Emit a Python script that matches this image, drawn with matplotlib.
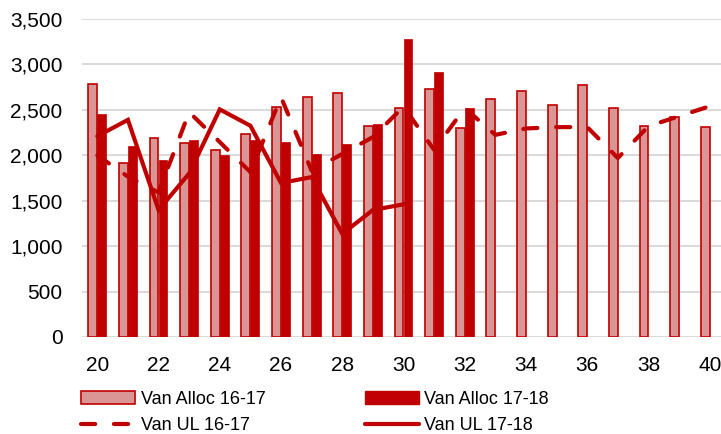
import numpy as np
import matplotlib.pyplot as plt
from matplotlib.patches import Patch
from matplotlib.lines import Line2D

plt.rcParams['font.family'] = ['Liberation Sans', 'DejaVu Sans']

# Week numbers and values
weeks = list(range(20, 41))
weeks_1718 = list(range(20, 33))
weeks_ul_1718 = list(range(20, 31))

alloc_1617 = [2780, 1920, 2190, 2140, 2055, 2230, 2535, 2645, 2690, 2320, 2515,
              2735, 2300, 2625, 2710, 2555, 2775, 2515, 2320, 2420, 2315]
alloc_1718 = [2455, 2105, 1950, 2165, 2000, 2165, 2150, 2015, 2125, 2345, 3285,
              2915, 2515]
ul_1617 = [2000, 1765, 1590, 2475, 2145, 1815, 2640, 1830, 2015, 2200, 2535,
           2060, 2520, 2225, 2295, 2310, 2310, 1970, 2320, 2430, 2540]
ul_1718 = [2210, 2390, 1398, 1800, 2505, 2325, 1695, 1760, 1135, 1398, 1460]

dark = '#C00000'
light = '#DA9694'

fig = plt.figure(figsize=(7.21, 4.34), dpi=100)
ax = fig.add_axes([82 / 721, 1 - 337 / 434, (725 - 82) / 721, (337 - 19) / 434])

off = 0.147
bw = 0.29
ax.bar(np.array(weeks) - off, alloc_1617, width=bw, color=light,
       edgecolor=dark, linewidth=1.2, zorder=2)
ax.bar(np.array(weeks_1718) + off, alloc_1718, width=bw, color=dark,
       edgecolor=dark, linewidth=0.5, zorder=2)
ax.plot(weeks, ul_1617, color=dark, lw=3, dashes=(3.4, 4.5),
        dash_capstyle='round', zorder=3)
ax.plot(weeks_ul_1718, ul_1718, color=dark, lw=3, solid_capstyle='round',
        solid_joinstyle='miter', zorder=3)

ax.set_xlim(19.5, 40.5)
ax.set_ylim(0, 3500)
ax.set_xticks(range(20, 41, 2))
ax.set_yticks(range(0, 3501, 500))
ax.set_yticklabels([f'{v:,}' for v in range(0, 3501, 500)])
ax.tick_params(axis='both', length=0, labelsize=15, colors='black')
ax.tick_params(axis='x', pad=14)
ax.tick_params(axis='y', pad=14)
ax.yaxis.grid(True, color='#d9d9d9', lw=1.4)
ax.set_axisbelow(True)
for s in ax.spines.values():
    s.set_visible(False)

handles = [
    Patch(facecolor=light, edgecolor=dark, linewidth=1.2),
    Line2D([0], [0], color=dark, lw=3, dashes=(3.4, 4.5), dash_capstyle='round'),
    Patch(facecolor=dark, edgecolor=dark),
    Line2D([0], [0], color=dark, lw=3, solid_capstyle='round'),
]
labels = ['Van Alloc 16-17', 'Van UL 16-17', 'Van Alloc 17-18', 'Van UL 17-18']
fig.legend(handles, labels, ncol=2, loc='upper left',
           bbox_to_anchor=(81 / 721, 1 - 391 / 434), frameon=False,
           prop={'size': 13}, handlelength=3.0,
           handleheight=0.7, handletextpad=0.3, columnspacing=5.5,
           labelspacing=0.5, borderpad=0, borderaxespad=0)

fig.savefig('out.png', dpi=100)
